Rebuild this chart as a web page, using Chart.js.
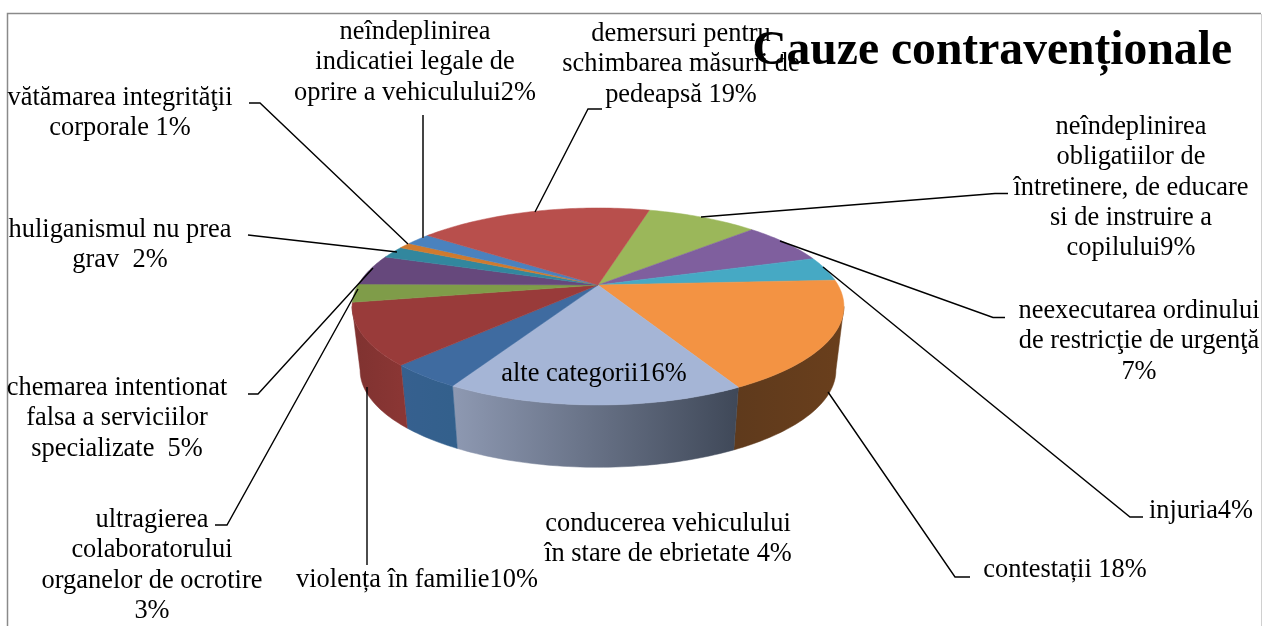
<!DOCTYPE html>
<html>
<head>
<meta charset="utf-8">
<style>html,body{margin:0;padding:0;background:#fff;overflow:hidden}canvas{display:block}</style>
<script src="https://cdn.jsdelivr.net/npm/chart.js@4"></script>
</head>
<body>
<canvas id="c" width="1263" height="626"></canvas>
<script>
const titleText = "Cauze contravenționale";
const categories = [
  "neîndeplinirea\nobligatiilor de\nîntretinere, de educare\nsi de instruire a\ncopilului9%",
  "neexecutarea ordinului\nde restricţie de urgenţă\n7%",
  "injuria4%",
  "contestații 18%",
  "alte categorii16%",
  "conducerea vehiculului\nîn stare de ebrietate 4%",
  "violența în familie10%",
  "ultragierea\ncolaboratorului\norganelor de ocrotire\n3%",
  "chemarea intentionat\nfalsa a serviciilor\nspecializate  5%",
  "huliganismul nu prea\ngrav  2%",
  "vătămarea integrităţii\ncorporale 1%",
  "neîndeplinirea\nindicatiei legale de\noprire a vehiculului2%",
  "demersuri pentru\nschimbarea măsurii de\npedeapsă 19%"
];
const values = [9, 7, 4, 18, 16, 4, 10, 3, 5, 2, 1, 2, 19];
const topColors = ["#9bb75a","#7f5f9e","#46a9c4","#f39343","#a5b5d6","#3f6ba0","#993b3a","#7f9c49","#66487c","#32879e","#cf7a2e","#4a82be","#b84f4c"];
const sideFrom  = ["#6f8540","#5a4370","#2f7a8f","#5f3a1c","#8e99b2","#36608f","#7f3230","#5f7536","#4a3558","#256476","#9a5a20","#36608f","#8a3634"];
const sideTo    = ["#6f8540","#5a4370","#2f7a8f","#6a3f1c","#3f4858","#33608c","#8a3634","#5f7536","#4a3558","#256476","#9a5a20","#36608f","#8a3634"];
// label anchor: centre x, first baseline y
const labelX = [1131,1139,1201,1065,594,668,417,152,117,120,120,415,681];
const labelY = [134,318,518,577,381,531,587,527,395,237,105,39,41];
// projection of the pie disc (perspective ellipse)
const proj = {k:0.218, top:{cx:598, cy:285, a:93.8, b:240}, bottom:{cx:598, cy:349, a:92.5, b:232.2}};
// leader lines, chart-pixel polylines
const leaders = [
  [[1008,193.5],[995,193.5],[701,217]],
  [[1005,317.5],[993,317.5],[780,241]],
  [[1143,517],[1130,517],[823,267]],
  [[970,577],[955,577],[828,392]],
  null,
  null,
  [[367,565],[367,387]],
  [[215,525],[227,525],[358,289]],
  [[248,394],[258,394],[373,268]],
  [[248,235],[397,252]],
  [[249,103],[260,103],[408,244]],
  [[423,115],[423,238]],
  [[602,109],[588,109],[535,212]]
];

function P(face, ang){
  const x=Math.cos(ang), y=Math.sin(ang), d=1-proj.k*y;
  return [face.cx+face.b*x/d, face.cy+face.a*y/d];
}
function steps(s,e){const n=Math.max(2,Math.ceil((e-s)/0.02));const r=[];for(let i=0;i<=n;i++)r.push(s+(e-s)*i/n);return r;}

const pie3d = {
  id:'pie3d',
  beforeDraw(chart){
    const c=chart.ctx;
    c.save();
    c.fillStyle='#fff';c.fillRect(0,0,chart.width,chart.height);
    c.strokeStyle='#8a8a8a';c.lineWidth=1.5;
    c.beginPath();c.moveTo(7.5,626);c.lineTo(7.5,13.5);c.lineTo(1261,13.5);c.stroke();
    c.strokeStyle='#d0d0d0';c.lineWidth=1;
    c.beginPath();c.moveTo(1261.5,14);c.lineTo(1261.5,626);c.stroke();
    c.restore();
  },
  beforeDatasetDraw(chart,args){
    const c=chart.ctx, arcs=chart.getDatasetMeta(args.index).data;
    const lo=Math.asin(proj.k), hi=Math.PI-lo;
    c.save();
    // side walls: only the front part of the rim, between the silhouette tangents
    arcs.forEach((arc,i)=>{
      const s=Math.max(arc.startAngle,lo), e=Math.min(arc.endAngle,hi);
      if(e<=s)return;
      const as=steps(s,e);
      const t=as.map(a=>P(proj.top,a)), b=as.map(a=>P(proj.bottom,a));
      const xa=Math.min(t[0][0],t[t.length-1][0]), xb=Math.max(t[0][0],t[t.length-1][0]);
      const g=c.createLinearGradient(xa,0,xb,0);
      g.addColorStop(0,sideFrom[i]);g.addColorStop(1,sideTo[i]);
      c.fillStyle=g;c.strokeStyle=g;c.lineWidth=0.5;
      c.beginPath();
      t.forEach((p,j)=>j?c.lineTo(p[0],p[1]):c.moveTo(p[0],p[1]));
      b.reverse().forEach(p=>c.lineTo(p[0],p[1]));
      c.closePath();c.fill();c.stroke();
    });
    // top faces
    arcs.forEach((arc,i)=>{
      c.fillStyle=topColors[i];c.strokeStyle=topColors[i];c.lineWidth=0.5;
      c.beginPath();c.moveTo(proj.top.cx,proj.top.cy);
      steps(arc.startAngle,arc.endAngle).forEach(a=>{const p=P(proj.top,a);c.lineTo(p[0],p[1]);});
      c.closePath();c.fill();c.stroke();
    });
    c.restore();
    return false;
  },
  afterDraw(chart){
    const c=chart.ctx;
    c.save();
    leaders.forEach((l,i)=>{
      if(!l)return;
      c.lineWidth=i===11?2:1.4;c.strokeStyle=i===11?'#444':'#000';
      c.beginPath();l.forEach((p,j)=>j?c.lineTo(p[0],p[1]):c.moveTo(p[0],p[1]));c.stroke();
    });
    c.fillStyle='#000';c.textAlign='center';c.textBaseline='alphabetic';
    c.font='26.4px "Liberation Serif"';
    categories.forEach((t,i)=>{
      t.split('\n').forEach((line,j)=>c.fillText(line,labelX[i],labelY[i]+j*30.3));
    });
    c.restore();
  }
};

new Chart(document.getElementById('c'),{
  type:'pie',
  data:{labels:categories,datasets:[{data:values,backgroundColor:topColors,borderWidth:0}]},
  options:{
    responsive:false,animation:false,rotation:15,
    layout:{padding:{right:31,top:23}},
    plugins:{
      legend:{display:false},tooltip:{enabled:false},
      title:{display:true,text:titleText,align:'end',color:'#000',padding:0,
        font:{family:'"Liberation Serif"',size:47.6,weight:'bold',lineHeight:1.2}}
    }
  },
  plugins:[pie3d]
});
</script>
</body>
</html>
